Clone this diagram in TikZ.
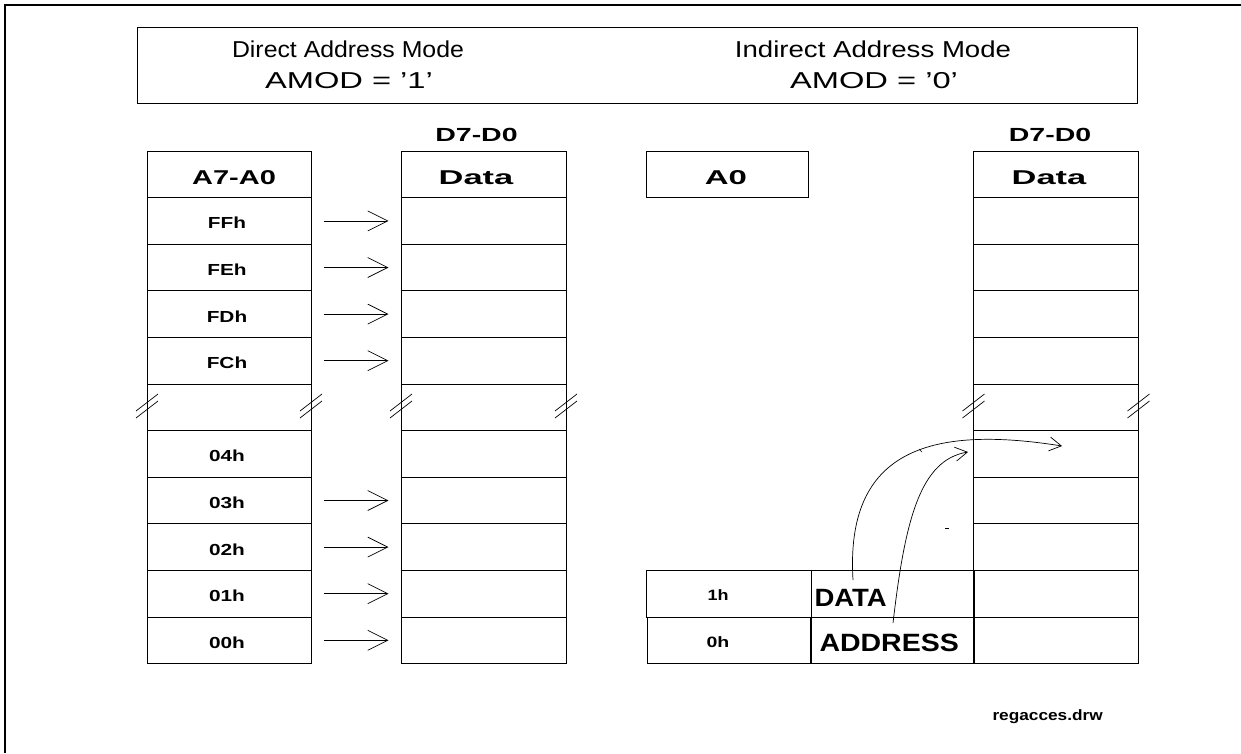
\documentclass[tikz,border=0pt]{standalone}
\usepackage{fontspec}
\setmainfont{Liberation Sans}
\usetikzlibrary{arrows.meta}
\newcommand{\hstr}[2]{\scalebox{#1}[1]{#2}}
\begin{document}
\begin{tikzpicture}[x=1pt,y=-1pt,line width=1pt,
  cellbox/.style={draw,inner sep=0pt,minimum height=46.6pt},
  lcell/.style={cellbox,minimum width=164pt},
  dcell/.style={cellbox,minimum width=165pt},
  hdr/.style={font=\fontsize{23}{23}\selectfont},
  lbl/.style={font=\bfseries\fontsize{20}{20}\selectfont},
  rowl/.style={font=\bfseries\fontsize{16}{16}\selectfont},
  rowr/.style={font=\bfseries\fontsize{15}{15}\selectfont,anchor=west,inner sep=0pt},
  big/.style={font=\bfseries\fontsize{25}{25}\selectfont,anchor=west,inner sep=0pt},
  arr/.style={line width=0.7pt,-{Straight Barb[length=20pt,width=20pt]}},
  carr/.style={line width=0.7pt,-{Straight Barb[length=12pt,width=14pt]}},
  slash/.style={line width=0.7pt}]
\useasboundingbox (0,0) rectangle (1241,753);
% outer frame
\draw[line width=1.5pt] (5,753) -- (5,5) -- (1241,5);
% header
\node[draw,inner sep=0pt,minimum width=1000pt,minimum height=76pt] (head) at (637,65) {};
\node[hdr] (t1) at (348,49) {\hstr{1.08}{Direct Address Mode}};
\node[hdr] (t2) at (349,81) {\hstr{1.42}{AMOD = '1'}};
\node[hdr] (t3) at (873,49) {\hstr{1.2}{Indirect Address Mode}};
\node[hdr] (t4) at (874,81) {\hstr{1.42}{AMOD = '0'}};
% column titles
\node[lbl,font=\bfseries\fontsize{19}{19}\selectfont] (dl) at (476.5,135) {\hstr{1.5}{D7-D0}};
\node[lbl,font=\bfseries\fontsize{19}{19}\selectfont] (dr) at (1050,135) {\hstr{1.5}{D7-D0}};
% left address column
\node[lcell] (a0) at (229,174.3) {};
\node[lbl] (a0l) at (234,177.5) {\hstr{1.45}{A7-A0}};
\foreach \k/\t in {1/FFh,2/FEh,3/FDh,4/FCh,6/04h,7/03h,8/02h,9/01h,10/00h}{
  \node[lcell] (a\k) at (229,{174.3+46.6*\k}) {};
  \node[rowl] (al\k) at (227,{176.5+46.6*\k}) {\hstr{1.3}{\t}};
}
% data column left
\node[dcell] (d0) at (483.5,174.3) {};
\node[lbl] (d0l) at (476,177.5) {\hstr{1.72}{Data}};
\foreach \k in {1,2,3,4,6,7,8,9,10}{
  \node[dcell] (d\k) at (483.5,{174.3+46.6*\k}) {};
}
% data column right
\node[dcell] (r0) at (1056,174.3) {};
\node[lbl] (r0l) at (1049,177.5) {\hstr{1.72}{Data}};
\foreach \k in {1,2,3,4,6,7,8,9,10}{
  \node[dcell] (r\k) at (1056,{174.3+46.6*\k}) {};
}
% A0 box
\node[cellbox,minimum width=162pt] (aa) at (727,174.3) {};
\node[lbl] (aal) at (726,177.5) {\hstr{1.65}{A0}};
% indirect registers
\node[cellbox,minimum width=165pt] (i1) at (728.5,593.7) {};
\node[rowr] (i1l) at (707,595.5) {\hstr{1.2}{1h}};
\node[cellbox,minimum width=163pt] (i0) at (728.5,640.3) {};
\node[rowr] (i0l) at (706,642) {\hstr{1.3}{0h}};
\node[cellbox,minimum width=163pt] (v1) at (892.5,593.7) {};
\node[big] (v1l) at (814,597.5) {\hstr{1.1}{DATA}};
\node[cellbox,minimum width=163pt] (v0) at (892.5,640.3) {};
\node[big] (v0l) at (819,642.5) {\hstr{1.14}{ADDRESS}};
% break rows
\foreach \x in {147,311,401,566,973.5,1138.5}{
  \draw (\x,384) -- (\x,430.6);
  \draw[slash] (\x-11,411) -- (\x+11,394);
  \draw[slash] (\x-11,418) -- (\x+11,401);
}
% direct arrows
\foreach \k in {1,2,3,4,7,8,9,10}{
  \draw[arr] ([xshift=12pt]a\k.east) -- ([xshift=-12pt]d\k.west);
}
% indirect curved arrows
\coordinate (e1) at (1062,446);
\coordinate (e2) at (968,452);
\draw[carr] (853,580) .. controls (845,450) and (930,425) .. (e1);
\draw[carr] (893,623) .. controls (905,520) and (920,460) .. (e2);
\draw[line width=0.6pt] (919,449) -- (922,452);
\draw[line width=0.6pt] (945,528) -- (949,528);
% file name
\node[font=\bfseries\fontsize{15}{15}\selectfont,anchor=west,inner sep=0pt] (fn) at (992,717) {\hstr{1.15}{regacces.drw}};
\end{tikzpicture}
\end{document}
